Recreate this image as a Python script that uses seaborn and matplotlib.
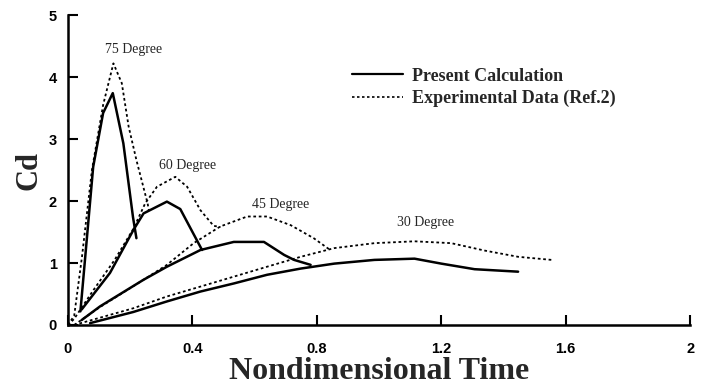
import numpy as np
import pandas as pd
import matplotlib
matplotlib.use("Agg")
import matplotlib.pyplot as plt
import seaborn as sns
from matplotlib.lines import Line2D

# ---- data ----
calc75_x = [0.04, 0.081, 0.113, 0.144, 0.178, 0.209, 0.22]
calc75_y = [0.22, 2.55, 3.42, 3.74, 2.93, 1.74, 1.40]
exp75_x = [0.0, 0.02, 0.045, 0.077, 0.113, 0.146, 0.173, 0.195, 0.22, 0.256, 0.26]
exp75_y = [0.0, 0.15, 1.10, 2.50, 3.55, 4.22, 3.90, 3.20, 2.66, 1.96, 1.85]

calc60_x = [0.044, 0.135, 0.21, 0.243, 0.318, 0.361, 0.431]
calc60_y = [0.25, 0.84, 1.53, 1.80, 1.99, 1.87, 1.21]
exp60_x = [0.0, 0.02, 0.08, 0.15, 0.21, 0.248, 0.286, 0.345, 0.383, 0.426, 0.468, 0.49]
exp60_y = [0.0, 0.10, 0.55, 1.05, 1.55, 1.96, 2.23, 2.39, 2.23, 1.85, 1.60, 1.58]

calc45_x = [0.044, 0.103, 0.243, 0.318, 0.426, 0.533, 0.63, 0.695, 0.727, 0.78]
calc45_y = [0.08, 0.30, 0.73, 0.94, 1.21, 1.34, 1.34, 1.13, 1.05, 0.97]
exp45_x = [0.02, 0.10, 0.243, 0.318, 0.404, 0.49, 0.576, 0.64, 0.716, 0.79, 0.84]
exp45_y = [0.0, 0.28, 0.73, 0.97, 1.32, 1.59, 1.75, 1.75, 1.61, 1.40, 1.22]

calc30_x = [0.071, 0.21, 0.318, 0.426, 0.533, 0.64, 0.748, 0.856, 0.985, 1.114, 1.2, 1.307, 1.447]
calc30_y = [0.03, 0.21, 0.38, 0.54, 0.67, 0.81, 0.91, 0.99, 1.05, 1.07, 0.99, 0.90, 0.86]
exp30_x = [0.02, 0.21, 0.318, 0.426, 0.533, 0.64, 0.748, 0.856, 0.985, 1.114, 1.232, 1.34, 1.447, 1.555]
exp30_y = [0.0, 0.27, 0.46, 0.62, 0.78, 0.94, 1.10, 1.24, 1.32, 1.35, 1.32, 1.20, 1.10, 1.05]

angle_labels = ["75 Degree", "60 Degree", "45 Degree", "30 Degree"]
label_x = [0.21, 0.384, 0.684, 1.148]
label_y = [4.44, 2.58, 1.95, 1.65]

x_ticks = [0, 0.4, 0.8, 1.2, 1.6, 2]
x_tick_labels = ["0", "0.4", "0.8", "1.2", "1.6", "2"]
y_ticks = [0, 1, 2, 3, 4, 5]

legend_labels = ["Present Calculation", "Experimental Data (Ref.2)"]

sns.set_style("ticks")
plt.rcParams["font.family"] = ["Liberation Serif", "DejaVu Serif"]

fig = plt.figure(figsize=(7.03, 3.91), dpi=100)
ax = fig.add_axes([0.0967, 0.1688, 0.885, 0.7928])

calc = [(calc75_x, calc75_y), (calc60_x, calc60_y), (calc45_x, calc45_y), (calc30_x, calc30_y)]
exp = [(exp75_x, exp75_y), (exp60_x, exp60_y), (exp45_x, exp45_y), (exp30_x, exp30_y)]

for xs, ys in exp:
    sns.lineplot(x=xs, y=ys, ax=ax, sort=False, color="black", lw=1.3,
                 linestyle=(0, (1.5, 1.5)), estimator=None)
for xs, ys in calc:
    sns.lineplot(x=xs, y=ys, ax=ax, sort=False, color="black", lw=1.8,
                 linestyle="-", estimator=None)

for t, lx, ly in zip(angle_labels, label_x, label_y):
    ax.text(lx, ly, t, ha="center", va="center", fontsize=10,
            fontfamily="Liberation Serif")

ax.set_xlim(0, 2)
ax.set_ylim(0, 5)
ax.set_xticks(x_ticks)
ax.set_xticklabels(x_tick_labels)
ax.set_yticks(y_ticks)
for lab in ax.get_xticklabels() + ax.get_yticklabels():
    lab.set_fontfamily("Liberation Sans")
    lab.set_fontweight("bold")
    lab.set_fontsize(10.5)
ax.tick_params(direction="in", length=7, width=1.5, colors="black")
ax.tick_params(axis="x", pad=12)
ax.tick_params(axis="y", pad=8)
sns.despine(ax=ax)
for s in ["left", "bottom"]:
    ax.spines[s].set_linewidth(1.8)
    ax.spines[s].set_color("black")

ax.set_xlabel("Nondimensional Time", fontsize=23, fontweight="bold", labelpad=1)
ax.set_ylabel("Cd", fontsize=22, fontweight="bold", labelpad=4)

handles = [Line2D([], [], color="black", lw=1.6),
           Line2D([], [], color="black", lw=1.2, linestyle=(0, (1.5, 1.5)))]
leg = ax.legend(handles, legend_labels, loc="upper left",
                bbox_to_anchor=(0.457, 0.83), frameon=False,
                prop={"family": "Liberation Serif", "weight": "bold", "size": 13},
                handlelength=2.8, handletextpad=0.5, labelspacing=0.3,
                borderaxespad=0, borderpad=0)

fig.savefig("out.png", dpi=100)
